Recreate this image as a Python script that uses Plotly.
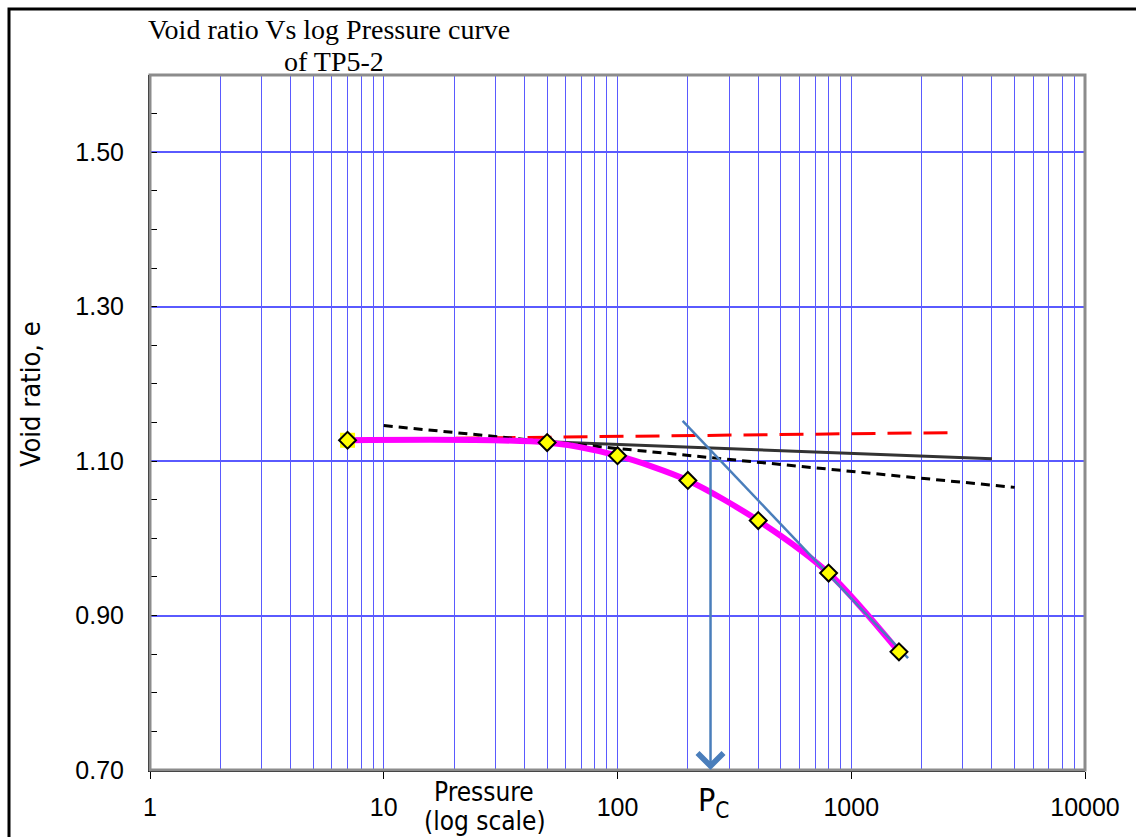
import math
import plotly.graph_objects as go

# ---- data ----
pressure = [7, 50, 100, 200, 400, 800, 1600]
void_ratio = [1.127, 1.124, 1.107, 1.075, 1.023, 0.955, 0.853]

recomp_p = [7, 2800]          # red dashed line
recomp_e = [1.128, 1.137]
bisect_p = [50, 4000]         # solid dark line
bisect_e = [1.125, 1.103]
horiz_p = [10, 5000]          # black dashed line
horiz_e = [1.146, 1.066]
tangent_p = [190, 1750]       # steel-blue virgin tangent
tangent_e = [1.152, 0.845]
pc_value = 250
pc_top_e = 1.116

x_tickvals = [1, 10, 100, 1000, 10000]
x_ticktext = ["1", "10", "100", "1000", "10000"]
y_tickvals = [0.70, 0.90, 1.10, 1.30, 1.50]
y_ticktext = ["0.70", "0.90", "1.10", "1.30", "1.50"]
minor_x = [m * 10 ** d for d in range(0, 4) for m in range(2, 10)]

NARROW = "Liberation Sans Narrow, DejaVu Sans Condensed, Arial Narrow, Liberation Sans, Arial"
SANS = "Liberation Sans, Arial"
SERIF = "Liberation Serif, Times New Roman"
GRID = "#5A5AFF"
BLUE = "#4A7EBB"

fig = go.Figure()

fig.add_trace(go.Scatter(x=recomp_p, y=recomp_e, mode="lines",
                         line=dict(color="#FF0000", width=3, dash="24px,12px"),
                         hoverinfo="skip", showlegend=False))
fig.add_trace(go.Scatter(x=bisect_p, y=bisect_e, mode="lines",
                         line=dict(color="#333333", width=3),
                         hoverinfo="skip", showlegend=False))
fig.add_trace(go.Scatter(x=horiz_p, y=horiz_e, mode="lines",
                         line=dict(color="#000000", width=3, dash="9px,6px"),
                         hoverinfo="skip", showlegend=False))
fig.add_trace(go.Scatter(x=pressure, y=void_ratio, mode="lines",
                         line=dict(color="#FF00FF", width=6, shape="spline", smoothing=0.8),
                         hoverinfo="skip", showlegend=False))
fig.add_trace(go.Scatter(x=tangent_p, y=tangent_e, mode="lines",
                         line=dict(color=BLUE, width=2.5),
                         hoverinfo="skip", showlegend=False))
# highlighted first point background
fig.add_trace(go.Scatter(x=pressure[:1], y=void_ratio[:1], mode="markers",
                         marker=dict(symbol="square", size=15, color="#FFFF00", line=dict(width=0)),
                         hoverinfo="skip", showlegend=False))
fig.add_trace(go.Scatter(x=pressure, y=void_ratio, mode="markers",
                         marker=dict(symbol="diamond", size=13, color="#FFFF00",
                                     line=dict(color="#000000", width=2)),
                         showlegend=False))

# Pc arrow
fig.add_annotation(x=math.log10(pc_value), y=0.70, xref="x", yref="y",
                   ax=math.log10(pc_value), ay=pc_top_e, axref="x", ayref="y",
                   showarrow=True, arrowhead=4, arrowsize=2, arrowwidth=2.5,
                   arrowcolor=BLUE, text="")

# texts
fig.add_annotation(x=(329 - 150) / 935, y=(770 - 30) / 695, xref="paper", yref="paper",
                   xanchor="center", yanchor="middle", showarrow=False,
                   text="Void ratio Vs log Pressure curve",
                   font=dict(family=SERIF, size=28, color="#000000"))
fig.add_annotation(x=(334 - 150) / 935, y=(770 - 61) / 695, xref="paper", yref="paper",
                   xanchor="center", yanchor="middle", showarrow=False,
                   text="of TP5-2",
                   font=dict(family=SERIF, size=28, color="#000000"))
fig.add_annotation(x=(30 - 150) / 935, y=(770 - 394) / 695, xref="paper", yref="paper",
                   xanchor="center", yanchor="middle", showarrow=False, textangle=-90,
                   text="Void ratio, e", font=dict(family=NARROW, size=27, color="#000000"))
fig.add_annotation(x=(484 - 150) / 935, y=(770 - 792) / 695, xref="paper", yref="paper",
                   xanchor="center", yanchor="middle", showarrow=False,
                   text="Pressure", font=dict(family=NARROW, size=26, color="#000000"))
fig.add_annotation(x=(485 - 150) / 935, y=(770 - 821) / 695, xref="paper", yref="paper",
                   xanchor="center", yanchor="middle", showarrow=False,
                   text="(log scale)", font=dict(family=NARROW, size=26, color="#000000"))
fig.add_annotation(x=math.log10(pc_value), y=(770 - 802) / 695, xref="x", yref="paper",
                   xanchor="center", yanchor="middle", xshift=3, showarrow=False,
                   text="P<sub>C</sub>", font=dict(family=NARROW, size=32, color="#000000"))

# plot-area border (gray) and outer frame
fig.add_shape(type="rect", xref="paper", yref="paper", x0=0, x1=1, y0=0, y1=1,
              line=dict(color="#8C8C8C", width=3), layer="above")
fig.add_shape(type="rect", xref="paper", yref="paper",
              x0=(9 - 150) / 935, x1=(1145 - 150) / 935,
              y0=(770 - 850) / 695, y1=(770 - 9) / 695,
              line=dict(color="#000000", width=3), layer="above")

fig.update_xaxes(type="log", range=[0, 4],
                 tickmode="array", tickvals=x_tickvals, ticktext=x_ticktext,
                 ticks="outside", ticklen=7, tickcolor="#000000", tickwidth=1,
                 showgrid=True, gridcolor=GRID, gridwidth=1,
                 minor=dict(tickmode="array", tickvals=minor_x, showgrid=True,
                            gridcolor=GRID, gridwidth=1, ticks=""),
                 showline=True, linecolor="#000000", linewidth=2, mirror=False,
                 zeroline=False, ticklabelstandoff=7,
                 tickfont=dict(family=SANS, size=25, color="#000000"))
fig.update_yaxes(range=[0.70, 1.60],
                 tickmode="array", tickvals=y_tickvals, ticktext=y_ticktext,
                 ticks="inside", ticklen=7, tickcolor="#000000", tickwidth=1,
                 showgrid=True, gridcolor=GRID, gridwidth=1.5,
                 minor=dict(tickmode="linear", tick0=0.70, dtick=0.05, ticks="inside",
                            ticklen=7, tickcolor="#000000", tickwidth=1, showgrid=False),
                 showline=True, linecolor="#000000", linewidth=2, mirror=False,
                 zeroline=False, ticklabelstandoff=19,
                 tickfont=dict(family=SANS, size=25, color="#000000"))

fig.update_layout(width=1136, height=837,
                  margin=dict(l=150, r=51, t=75, b=67, pad=0),
                  paper_bgcolor="#FFFFFF", plot_bgcolor="#FFFFFF",
                  showlegend=False)

fig.write_html("out.html")
